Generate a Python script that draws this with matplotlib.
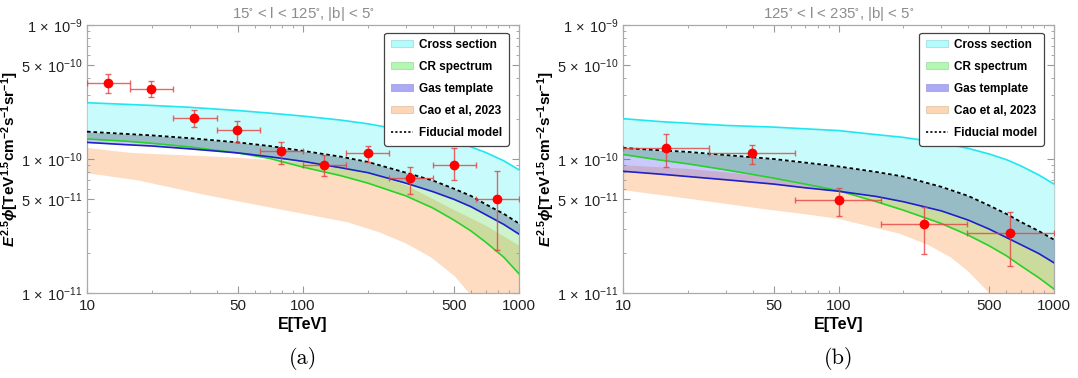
import numpy as np
import matplotlib
matplotlib.use("Agg")
import matplotlib.pyplot as plt
from matplotlib.ticker import FixedLocator, NullFormatter, FixedFormatter
from matplotlib.lines import Line2D
from matplotlib.patches import Patch

plt.rcParams['font.family'] = ['Liberation Sans', 'DejaVu Sans']
plt.rcParams['mathtext.fontset'] = 'custom'
plt.rcParams['mathtext.rm'] = 'Liberation Sans:bold'
plt.rcParams['mathtext.it'] = 'Liberation Sans:bold:italic'
plt.rcParams['mathtext.bf'] = 'Liberation Sans:bold'

# ---------------- data ----------------
E_grid = [10, 15, 20, 30, 50, 70, 100, 150, 200, 300, 400, 500, 600, 700, 850, 1000]

# panel (a): 15 < l < 125
a_title = r"15$\mathregular{^{\circ}}$ < l < 125$\mathregular{^{\circ}}$, |b| < 5$\mathregular{^{\circ}}$"
a_cyan = [2.63e-10, 2.56e-10, 2.51e-10, 2.43e-10, 2.30e-10, 2.20e-10, 2.09e-10, 1.95e-10,
          1.83e-10, 1.63e-10, 1.48e-10, 1.35e-10, 1.23e-10, 1.12e-10, 9.7e-11, 8.3e-11]
a_fid = [1.6e-10, 1.54e-10, 1.5e-10, 1.43e-10, 1.33e-10, 1.25e-10, 1.15e-10, 1.04e-10,
         9.5e-11, 7.9e-11, 6.9e-11, 6.0e-11, 5.3e-11, 4.6e-11, 3.9e-11, 3.3e-11]
a_blue = [1.33e-10, 1.28e-10, 1.25e-10, 1.19e-10, 1.11e-10, 1.04e-10, 9.6e-11, 8.6e-11,
          7.9e-11, 6.6e-11, 5.7e-11, 5.0e-11, 4.4e-11, 3.85e-11, 3.25e-11, 2.75e-11]
a_green = [1.41e-10, 1.36e-10, 1.31e-10, 1.23e-10, 1.11e-10, 1.01e-10, 8.7e-11, 7.5e-11,
           6.6e-11, 5.3e-11, 4.3e-11, 3.5e-11, 2.9e-11, 2.4e-11, 1.85e-11, 1.39e-11]
a_cao_E_up = [10, 13, 16, 20, 30, 50, 100, 150, 225, 300, 470, 700, 1000]
a_cao_up = [1.22e-10, 1.16e-10, 1.12e-10, 1.1e-10, 1.07e-10, 1.03e-10, 9.5e-11, 8.6e-11,
            7.5e-11, 6.4e-11, 4.4e-11, 3.2e-11, 2.27e-11]
a_cao_E_lo = [10, 17, 34, 60, 100, 160, 225, 300, 390, 500, 587, 1000]
a_cao_lo = [7.9e-11, 7.0e-11, 5.5e-11, 4.6e-11, 3.93e-11, 3.4e-11, 2.86e-11, 2.35e-11,
            1.86e-11, 1.35e-11, 1.0e-11, 4.0e-12]
a_E = [12.5, 19.85, 31.3, 49.7, 79, 125, 199, 313, 499, 791]
a_edges = [10, 15.8, 25.1, 39.8, 63.1, 100, 158, 251, 398, 631, 1000]
a_flux = [3.72e-10, 3.35e-10, 2.04e-10, 1.65e-10, 1.14e-10, 9.07e-11, 1.1e-10, 7.2e-11, 9.07e-11, 5.0e-11]
a_hi = [4.29e-10, 3.82e-10, 2.32e-10, 1.93e-10, 1.35e-10, 1.08e-10, 1.24e-10, 8.76e-11, 1.2e-10, 8.1e-11]
a_lo = [3.13e-10, 2.88e-10, 1.74e-10, 1.33e-10, 9.2e-11, 7.5e-11, 9.55e-11, 5.5e-11, 7.0e-11, 2.08e-11]

# panel (b): 125 < l < 235
b_title = r"125$\mathregular{^{\circ}}$ < l < 235$\mathregular{^{\circ}}$, |b| < 5$\mathregular{^{\circ}}$"
b_cyan = [2.0e-10, 1.9e-10, 1.85e-10, 1.78e-10, 1.73e-10, 1.68e-10, 1.63e-10, 1.52e-10,
          1.45e-10, 1.32e-10, 1.2e-10, 1.09e-10, 9.9e-11, 8.9e-11, 7.6e-11, 6.5e-11]
b_fid = [1.21e-10, 1.16e-10, 1.13e-10, 1.07e-10, 1.0e-10, 9.4e-11, 8.8e-11, 8.0e-11,
         7.4e-11, 6.2e-11, 5.3e-11, 4.5e-11, 3.9e-11, 3.4e-11, 2.9e-11, 2.5e-11]
b_blue = [8.1e-11, 7.7e-11, 7.4e-11, 7.0e-11, 6.5e-11, 6.1e-11, 5.75e-11, 5.25e-11,
          4.8e-11, 4.1e-11, 3.5e-11, 3.0e-11, 2.6e-11, 2.3e-11, 1.97e-11, 1.68e-11]
b_green = [1.08e-10, 9.8e-11, 9.2e-11, 8.3e-11, 7.2e-11, 6.5e-11, 5.8e-11, 4.8e-11,
           4.15e-11, 3.3e-11, 2.7e-11, 2.25e-11, 1.9e-11, 1.6e-11, 1.3e-11, 1.07e-11]
b_cao_E_up = [10, 20, 30, 50, 100, 200, 300, 500, 700, 1000]
b_cao_up = [9.07e-11, 8.5e-11, 8.0e-11, 7.3e-11, 6.3e-11, 5.3e-11, 4.5e-11, 3.5e-11, 2.6e-11, 1.8e-11]
b_cao_E_lo = [10, 20, 43, 70, 100, 190, 260, 330, 400, 500, 1000]
b_cao_lo = [5.9e-11, 5.1e-11, 4.3e-11, 3.9e-11, 3.6e-11, 2.8e-11, 2.3e-11, 1.86e-11, 1.45e-11,
            1.0e-11, 3.5e-12]
b_E = [15.8, 39.8, 100, 248, 625]
b_edges = [10, 25, 63, 158, 395, 1000]
b_flux = [1.21e-10, 1.11e-10, 4.97e-11, 3.25e-11, 2.78e-11]
b_hi = [1.54e-10, 1.28e-10, 6.05e-11, 4.41e-11, 3.99e-11]
b_lo = [8.66e-11, 9.12e-11, 3.75e-11, 1.97e-11, 1.58e-11]

legend_labels = ["Cross section", "CR spectrum", "Gas template", "Cao et al, 2023", "Fiducial model"]
ytick_vals = [1e-11, 5e-11, 1e-10, 5e-10, 1e-9]
ytick_labels = [r"$\mathregular{1\,\times\,10^{-11}}$", r"$\mathregular{5\,\times\,10^{-11}}$",
                r"$\mathregular{1\,\times\,10^{-10}}$", r"$\mathregular{5\,\times\,10^{-10}}$",
                r"$\mathregular{1\,\times\,10^{-9}}$"]
xtick_vals = [10, 50, 100, 500, 1000]
xtick_labels = ["10", "50", "100", "500", "1000"]

C_CYAN_FILL = "#c8fcfc"
C_CYAN_LINE = "#1fe6f0"
C_GREEN_LINE = "#2ad12a"
C_BLUE_LINE = "#2020c8"
C_ORANGE = "#fddcc2"
C_OVERLAP = "#98bcc6"


def interp_on(Eq, Es, vs):
    return 10 ** np.interp(np.log10(Eq), np.log10(Es), np.log10(vs))


def panel(ax, title, cyan, fid, blue, green, cEu, cu, cEl, cl, E, edges, flux, hi, lo, label):
    Eg = np.array(E_grid, float)
    fid = np.array(fid)
    blue = np.array(blue)
    green = np.array(green)
    # Cao et al band
    Eall = np.array(sorted(set(cEu) | set(cEl)), float)
    ax.fill_between(Eall, interp_on(Eall, cEl, cl), interp_on(Eall, cEu, cu),
                    color=C_ORANGE, lw=0, zorder=1)
    # CR spectrum band
    ax.fill_between(Eg, green, fid, color=(0.35, 0.85, 0.3), alpha=0.3, lw=0, zorder=2)
    # Gas template band
    ax.fill_between(Eg, blue, fid, color=(0.3, 0.3, 0.95), alpha=0.3, lw=0, zorder=3)
    # where both bands overlap
    ax.fill_between(Eg, np.maximum(blue, green), fid, color=C_OVERLAP, lw=0, zorder=4)
    # Cross-section band
    ax.fill_between(Eg, fid, cyan, color=C_CYAN_FILL, lw=0, zorder=4)

    ax.plot(Eg, cyan, color=C_CYAN_LINE, lw=1.2, zorder=5)
    ax.plot(Eg, green, color=C_GREEN_LINE, lw=1.2, zorder=5)
    ax.plot(Eg, blue, color=C_BLUE_LINE, lw=1.2, zorder=5)
    ax.plot(Eg, fid, color="black", lw=1.3, ls=(0, (2, 1.6)), zorder=6)

    E = np.array(E)
    flux = np.array(flux)
    xerr = [E - np.array(edges[:-1]), np.array(edges[1:]) - E]
    yerr = [flux - np.array(lo), np.array(hi) - flux]
    ax.errorbar(E, flux, xerr=xerr, yerr=yerr, fmt="o", color="red", ms=6,
                ecolor=(0.9, 0.25, 0.25, 0.8), elinewidth=1.0, capsize=2.2, capthick=1.0, zorder=7)

    ax.set_xscale("log")
    ax.set_yscale("log")
    ax.set_xlim(10, 1000)
    ax.set_ylim(1e-11, 1e-9)
    ax.xaxis.set_major_locator(FixedLocator(xtick_vals))
    ax.xaxis.set_major_formatter(FixedFormatter(xtick_labels))
    minors_x = [v * d for d in (10, 100) for v in range(2, 10) if v * d not in (50, 500)]
    ax.xaxis.set_minor_locator(FixedLocator(minors_x))
    ax.xaxis.set_minor_formatter(NullFormatter())
    ax.yaxis.set_major_locator(FixedLocator(ytick_vals))
    ax.yaxis.set_major_formatter(FixedFormatter(ytick_labels))
    minors_y = [v * d for d in (1e-11, 1e-10) for v in range(2, 10) if v != 5]
    ax.yaxis.set_minor_locator(FixedLocator(minors_y))
    ax.yaxis.set_minor_formatter(NullFormatter())
    ax.tick_params(which="both", direction="in", top=True, right=True, color="#999999",
                   labelcolor="#222222")
    ax.tick_params(axis="x", which="major", pad=4.5, labelsize=11)
    ax.tick_params(axis="y", which="major", pad=3, labelsize=10.5)
    ax.tick_params(which="major", length=5, width=0.8)
    ax.tick_params(which="minor", length=2.5, width=0.6)
    for s in ax.spines.values():
        s.set_color("#aaaaaa")
        s.set_linewidth(0.9)

    ax.set_title(title, color="#8c8c8c", fontsize=10.8, pad=5)
    ax.set_xlabel("E[TeV]", fontsize=11.5, fontweight="bold", labelpad=3)
    ax.set_ylabel(r"$E^{2.5}\phi$[TeV$^{1.5}$cm$^{-2}$s$^{-1}$sr$^{-1}$]", fontsize=11,
                  fontweight="bold")
    ax.yaxis.set_label_coords(-0.152, 0.5)

    handles = [Patch(facecolor="#b3fcfc", edgecolor="#9ad8d8", lw=0.5),
               Patch(facecolor="#b3f7b3", edgecolor="#9ad89a", lw=0.5),
               Patch(facecolor="#aaaaf7", edgecolor="#9a9ad8", lw=0.5),
               Patch(facecolor="#fdd7b5", edgecolor="#e0c0a0", lw=0.5),
               Line2D([], [], color="black", lw=1.2, ls=(0, (1.3, 1.3)))]
    leg = ax.legend(handles, legend_labels, loc="upper right", bbox_to_anchor=(0.976, 0.972),
                    borderaxespad=0, frameon=True, fancybox=True,
                    prop={"weight": "bold", "size": 8.5}, handlelength=1.9, handleheight=0.55,
                    labelspacing=0.85, borderpad=0.55, handletextpad=0.5)
    leg.get_frame().set_edgecolor("#444444")
    leg.get_frame().set_linewidth(0.9)
    leg.get_frame().set_alpha(1)
    leg.set_zorder(10)

    ax.text(0.5, -0.2, label, transform=ax.transAxes, ha="center", va="top",
            fontsize=16, family="cmr10")


fig = plt.figure(figsize=(10.78, 3.78), dpi=100)
ax1 = fig.add_axes([87 / 1078, 1 - 293 / 378, 432 / 1078, 268 / 378])
ax2 = fig.add_axes([623 / 1078, 1 - 293 / 378, 431 / 1078, 268 / 378])
panel(ax1, a_title, a_cyan, a_fid, a_blue, a_green, a_cao_E_up, a_cao_up, a_cao_E_lo, a_cao_lo,
      a_E, a_edges, a_flux, a_hi, a_lo, "(a)")
panel(ax2, b_title, b_cyan, b_fid, b_blue, b_green, b_cao_E_up, b_cao_up, b_cao_E_lo, b_cao_lo,
      b_E, b_edges, b_flux, b_hi, b_lo, "(b)")
fig.savefig("out.png", dpi=100)
